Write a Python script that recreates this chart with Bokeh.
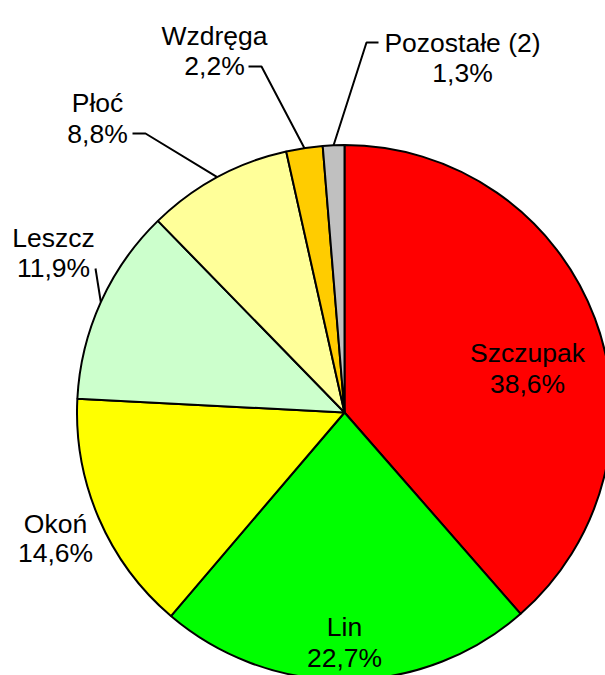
import math
from bokeh.plotting import figure
from bokeh.models import Range1d, ColumnDataSource
from bokeh.core.properties import value
from bokeh.embed import file_html
from bokeh.resources import INLINE

# ---- data ----
species = ["Szczupak", "Lin", "Okoń", "Leszcz", "Płoć", "Wzdręga", "Pozostałe (2)"]
percent = [38.6, 22.7, 14.6, 11.9, 8.8, 2.2, 1.3]
pct_labels = ["38,6%", "22,7%", "14,6%", "11,9%", "8,8%", "2,2%", "1,3%"]
colors = ["#FF0000", "#00FF00", "#FFFF00", "#CCFFCC", "#FFFF99", "#FFCC00", "#C0C0C0"]

# ---- layout (image pixels -> data units, 1:1) ----
W, H = 605, 675
def px(xp):
    return xp
def py(yp):
    return H - yp

cx, cy = px(344), py(412)
R = 267.5

# label anchors (px): x center, baseline of name line, baseline of % line
label_pos = {
    "Szczupak": (527, 352, 383),
    "Lin": (344, 626, 657),
    "Okoń": (55, 523, 552),
    "Leszcz": (53, 237, 267),
    "Płoć": (97, 102, 133),
    "Wzdręga": (214, 35, 65),
    "Pozostałe (2)": (462, 42, 72),
}
# leader lines: stub points near the label; the last segment goes to the arc midpoint
leaders = {
    "Leszcz": [(95, 268)],
    "Płoć": [(132, 133), (145, 133)],
    "Wzdręga": [(248, 66), (261, 66)],
    "Pozostałe (2)": [(378, 42), (366, 42)],
}

total = sum(percent)
starts, ends, mids = [], [], []
acc = 0.0
for v in percent:
    a0 = math.pi / 2 - 2 * math.pi * acc / total
    acc += v
    a1 = math.pi / 2 - 2 * math.pi * acc / total
    starts.append(a0)
    ends.append(a1)
    mids.append((a0 + a1) / 2)

p = figure(width=W, height=H, x_range=Range1d(0, W), y_range=Range1d(0, H),
           output_backend="svg", toolbar_location=None, min_border=0)
p.axis.visible = False
p.grid.visible = False
p.outline_line_color = None
p.background_fill_color = "white"

src = ColumnDataSource(dict(x=[cx] * len(species), y=[cy] * len(species),
                            start=starts, end=ends, color=colors))
p.wedge(x="x", y="y", radius=R, start_angle="start", end_angle="end",
        direction="clock", fill_color="color", line_color="black",
        line_width=2, source=src)

# leader lines
for name, pts in leaders.items():
    i = species.index(name)
    ex = cx + R * math.cos(mids[i])
    ey = cy + R * math.sin(mids[i])
    xs = [px(a) for a, b in pts] + [ex]
    ys = [py(b) for a, b in pts] + [ey]
    p.line(xs, ys, line_color="black", line_width=2)

# labels
lx, ly1, ly2, t1, t2 = [], [], [], [], []
for name, pl in zip(species, pct_labels):
    x, b1, b2 = label_pos[name]
    lx.append(px(x)); ly1.append(py(b1)); ly2.append(py(b2))
    t1.append(name); t2.append(pl)

for yy, tt in ((ly1, t1), (ly2, t2)):
    p.text(x=lx, y=yy, text=tt, text_align="center", text_baseline="alphabetic",
           text_font=value("Liberation Sans"), text_font_size="26.5px",
           text_color="black")

open("out.html", "w").write(file_html(p, INLINE))
